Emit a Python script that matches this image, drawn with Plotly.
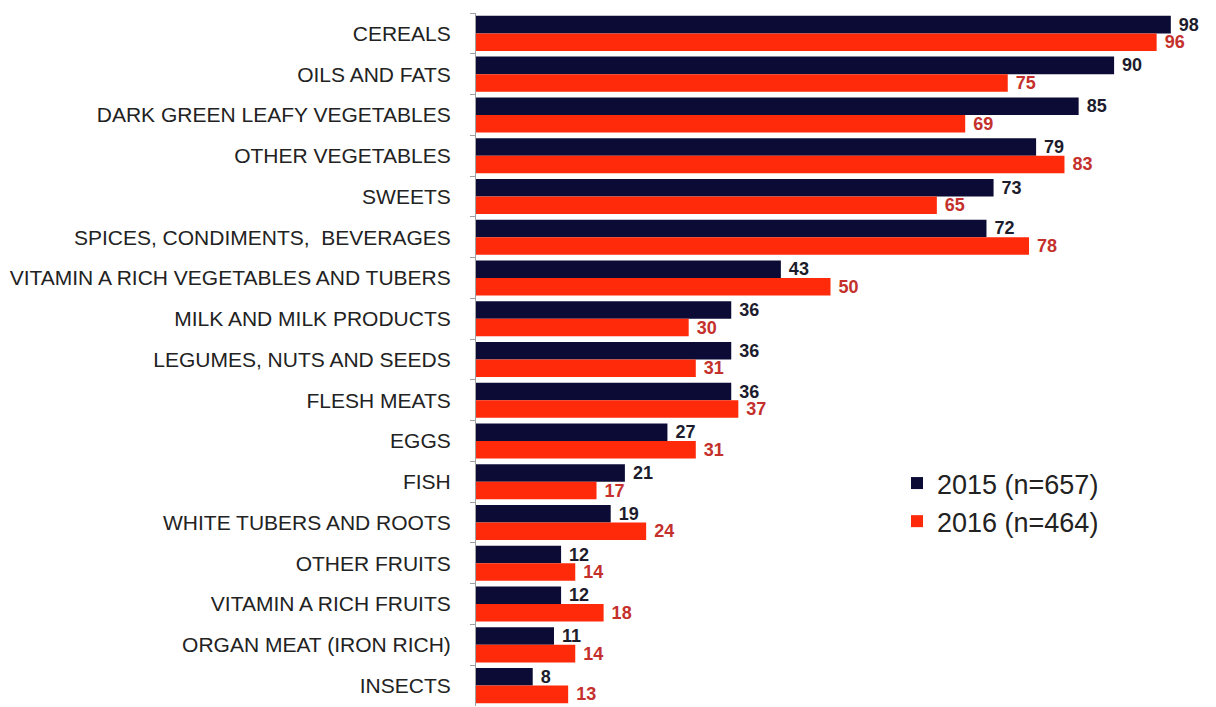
import plotly.graph_objects as go

categories = ["CEREALS", "OILS AND FATS", "DARK GREEN LEAFY VEGETABLES", "OTHER VEGETABLES",
              "SWEETS", "SPICES, CONDIMENTS,  BEVERAGES", "VITAMIN A RICH VEGETABLES AND TUBERS",
              "MILK AND MILK PRODUCTS", "LEGUMES, NUTS AND SEEDS", "FLESH MEATS", "EGGS", "FISH",
              "WHITE TUBERS AND ROOTS", "OTHER FRUITS", "VITAMIN A RICH FRUITS",
              "ORGAN MEAT (IRON RICH)", "INSECTS"]
values_2015 = [98, 90, 85, 79, 73, 72, 43, 36, 36, 36, 27, 21, 19, 12, 12, 11, 8]
values_2016 = [96, 75, 69, 83, 65, 78, 50, 30, 31, 37, 31, 17, 24, 14, 18, 14, 13]

fig = go.Figure()
fig.add_trace(go.Bar(
    y=categories, x=values_2015, orientation="h", name="2015 (n=657)",
    marker=dict(color="#0b0b36", line=dict(width=0)),
    texttemplate="\u00a0%{x}", textposition="outside", cliponaxis=False, constraintext="none",
    textfont=dict(family="Liberation Sans, Arial", size=18, color="#1c1c2c", weight="bold"),
))
fig.add_trace(go.Bar(
    y=categories, x=values_2016, orientation="h", name="2016 (n=464)",
    marker=dict(color="#ff2a0a", line=dict(width=0)),
    texttemplate="\u00a0%{x}", textposition="outside", cliponaxis=False, constraintext="none",
    textfont=dict(family="Liberation Sans, Arial", size=18, color="#c4302b", weight="bold"),
))

fig.update_layout(
    width=1216, height=707,
    margin=dict(l=476, r=31, t=13, b=1),
    paper_bgcolor="white", plot_bgcolor="white",
    barmode="group", bargap=0.14, bargroupgap=0,
    font=dict(family="Liberation Sans, Arial", color="#222222"),
    legend=dict(x=(897 - 476) / 709, y=1 - (459 - 13) / 693,
                xanchor="left", yanchor="top",
                font=dict(size=27, color="#222222"), bgcolor="rgba(0,0,0,0)",
                itemwidth=30),
    xaxis=dict(range=[0, 100], visible=False, showgrid=False, zeroline=False),
    yaxis=dict(autorange="reversed", showgrid=False, zeroline=False,
               showline=True, linecolor="#a0a0a0", linewidth=1,
               ticks="outside", tickson="boundaries", ticklen=5, tickcolor="#a0a0a0",
               ticklabelstandoff=20,
               tickfont=dict(size=21, color="#222222")),
)

fig.write_html("out.html")
